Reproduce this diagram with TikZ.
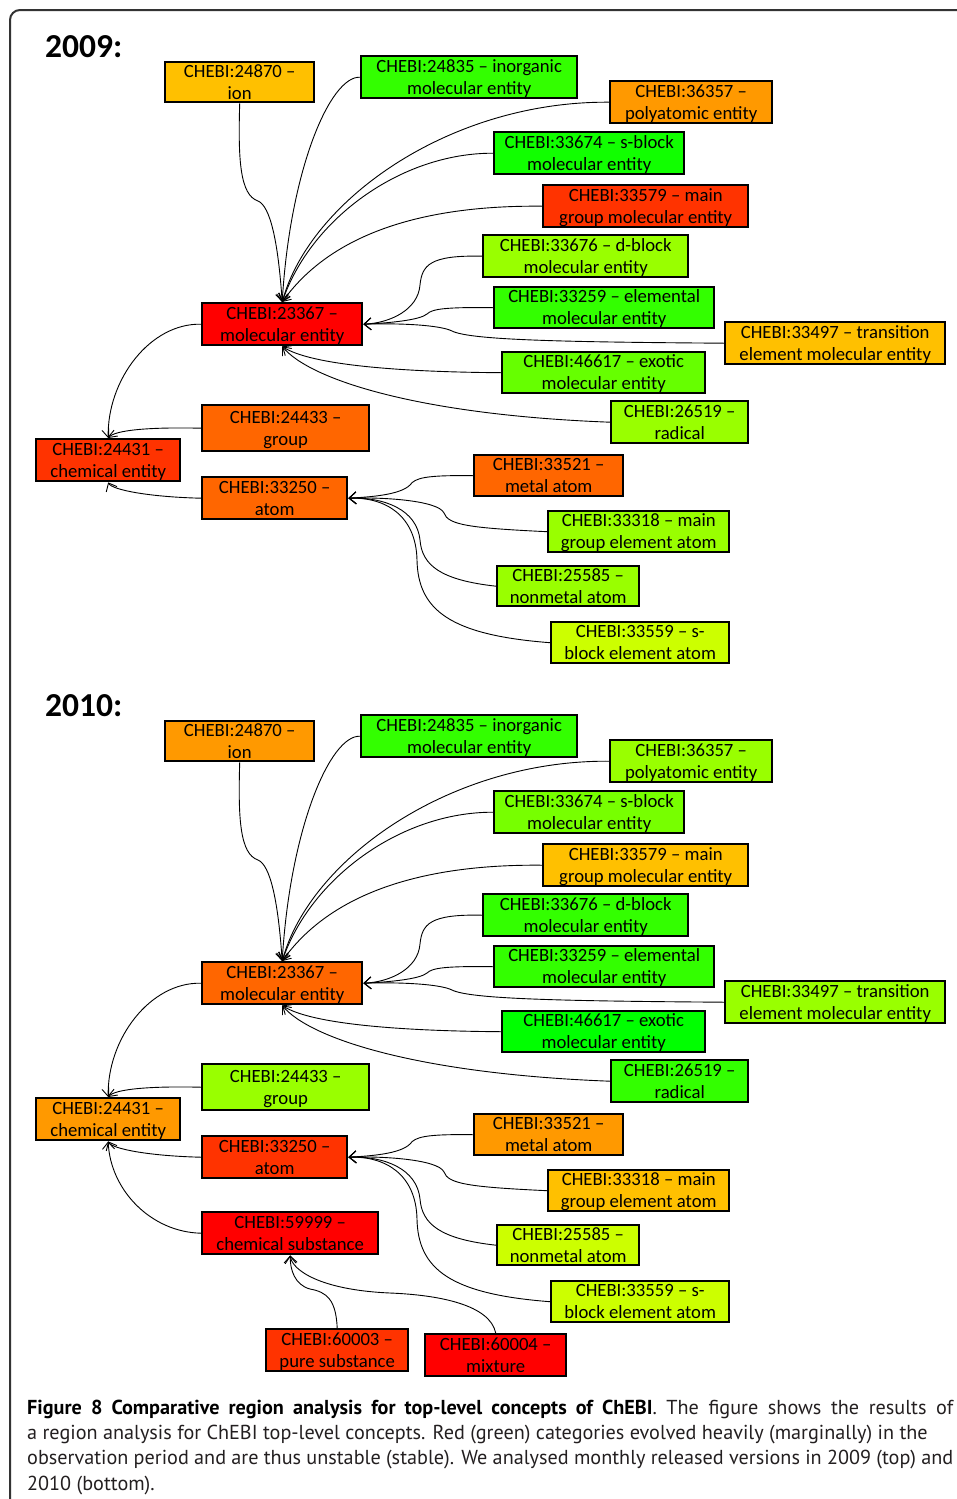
\documentclass[tikz,border=0pt]{standalone}
\usepackage{fontspec}
\setmainfont{Carlito}
\newfontfamily\capfont{PT Sans}
\usetikzlibrary{arrows.meta}

% fills, 2009 panel (prefix a) and 2010 panel (prefix b)
\definecolor{aion}{HTML}{FFC000}   \definecolor{bion}{HTML}{FF9900}
\definecolor{ainorg}{HTML}{33FF00} \definecolor{binorg}{HTML}{33FF00}
\definecolor{apoly}{HTML}{FF9900}  \definecolor{bpoly}{HTML}{99FF00}
\definecolor{asblk}{HTML}{11FF00}  \definecolor{bsblk}{HTML}{77FF00}
\definecolor{amgrp}{HTML}{FF3300}  \definecolor{bmgrp}{HTML}{FFC000}
\definecolor{adblk}{HTML}{99FF00}  \definecolor{bdblk}{HTML}{33FF00}
\definecolor{aelem}{HTML}{33FF00}  \definecolor{belem}{HTML}{33FF00}
\definecolor{atrans}{HTML}{FFC000} \definecolor{btrans}{HTML}{99FF00}
\definecolor{aexot}{HTML}{66FF00}  \definecolor{bexot}{HTML}{00FF00}
\definecolor{arad}{HTML}{99FF00}   \definecolor{brad}{HTML}{33FF00}
\definecolor{amol}{HTML}{FF0000}   \definecolor{bmol}{HTML}{FF6600}
\definecolor{agrp}{HTML}{FF6600}   \definecolor{bgrp}{HTML}{99FF00}
\definecolor{achem}{HTML}{FF3300}  \definecolor{bchem}{HTML}{FF9900}
\definecolor{aatom}{HTML}{FF6600}  \definecolor{batom}{HTML}{FF3300}
\definecolor{ametal}{HTML}{FF6600} \definecolor{bmetal}{HTML}{FF9900}
\definecolor{amgea}{HTML}{99FF00}  \definecolor{bmgea}{HTML}{FFC000}
\definecolor{anonm}{HTML}{99FF00}  \definecolor{bnonm}{HTML}{CCFF00}
\definecolor{asbea}{HTML}{CCFF00}  \definecolor{bsbea}{HTML}{CCFF00}
\definecolor{bsubst}{HTML}{FF0000}
\definecolor{bpure}{HTML}{FF3300}
\definecolor{bmix}{HTML}{FF0000}
\definecolor{framegray}{HTML}{333333}
\definecolor{captext}{HTML}{231F20}

\tikzset{
  box/.style={draw=black, line width=2.4pt, inner sep=0pt, anchor=north west,
    font=\fontsize{18.7}{22}\selectfont},
  arr/.style={line width=0.9pt,
    -{Straight Barb[length=7pt,width=12pt,line width=0.9pt]}},
  year/.style={anchor=base west, inner sep=0pt,
    font=\fontsize{33.5}{36}\selectfont\bfseries},
  capline/.style={anchor=base west, inner sep=0pt, text=captext,
    font=\capfont\fontsize{20.2}{25}\selectfont},
}

% two centred lines, first baseline on the box's text height
\newcommand\twoline[2]{\hbox to 0pt{\hss\vtop{\hbox to 0pt{\hss#1\hss}\hbox to 0pt{\hss#2\hss}}\hss}}

% \bx{name = fill colour}{x1}{y1}{x2}{y2}{line 1}{line 2}
\newcommand\bx[7]{%
  \pgfmathsetmacro\bxw{#4-#2}%
  \pgfmathsetmacro\bxh{(#5-#3-42)/2+16}%
  \pgfmathsetmacro\bxd{#5-#3-\bxh}%
  \node[box, fill=#1, minimum width=\bxw pt, text height=\bxh pt, text depth=\bxd pt]
    (#1) at (#2,#3) {\twoline{#6}{#7}};}

% one year: boxes and is-a links
\newcommand\panel[2]{%
  \node[year] (#1year) at (45,57) {#2};
  \bx{#1ion}{164}{61}{313}{101}{CHEBI:24870 –}{ion}
  \bx{#1inorg}{360}{55}{576}{97}{CHEBI:24835 – inorganic}{molecular entity}
  \bx{#1poly}{609}{80}{771}{122}{CHEBI:36357 –}{polyatomic entity}
  \bx{#1sblk}{493}{131}{683}{173}{CHEBI:33674 – s-block}{molecular entity}
  \bx{#1mgrp}{542}{184}{747}{226}{CHEBI:33579 – main}{group molecular entity}
  \bx{#1dblk}{482}{234}{687}{276}{CHEBI:33676 – d-block}{molecular entity}
  \bx{#1elem}{493}{286}{713}{327}{CHEBI:33259 – elemental}{molecular entity}
  \bx{#1trans}{724}{321}{944}{363}{CHEBI:33497 – transition}{element molecular entity}
  \bx{#1exot}{501}{351}{704}{392}{CHEBI:46617 – exotic}{molecular entity}
  \bx{#1rad}{610}{400}{747}{442}{CHEBI:26519 –}{radical}
  \bx{#1mol}{201}{302}{361}{344}{CHEBI:23367 –}{molecular entity}
  \bx{#1grp}{201}{404}{368}{450}{CHEBI:24433 –}{group}
  \bx{#1chem}{35}{438}{179}{480}{CHEBI:24431 –}{chemical entity}
  \bx{#1atom}{201}{476}{346}{518}{CHEBI:33250 –}{atom}
  \bx{#1metal}{473}{454}{622}{495}{CHEBI:33521 –}{metal atom}
  \bx{#1mgea}{547}{510}{728}{551}{CHEBI:33318 – main}{group element atom}
  \bx{#1nonm}{496}{565}{638}{605}{CHEBI:25585 –}{nonmetal atom}
  \bx{#1sbea}{550}{621}{728}{662}{CHEBI:33559 – s-}{block element atom}
  \draw[arr] (#1ion.south) .. controls (238,160) and (240,195) .. (258,201)
             .. controls (270,206) and (278,240) .. (#1mol.north);
  \draw[arr] (#1inorg.west) .. controls (330,76) and (290,170) .. (#1mol.north);
  \draw[arr] (#1poly.west) .. controls (450,101) and (310,200) .. (#1mol.north);
  \draw[arr] (#1sblk.west) .. controls (400,153) and (310,220) .. (#1mol.north);
  \draw[arr] (#1mgrp.west) .. controls (420,205) and (330,235) .. (#1mol.north);
  \draw[arr] (#1dblk.west) .. controls (430,255) and (422,265) .. (420,285)
             .. controls (418,310) and (390,323) .. (#1mol.east);
  \draw[arr] (#1elem.west) .. controls (445,307) and (432,309) .. (427,314)
             .. controls (420,320) and (390,323) .. (#1mol.east);
  \draw[arr] (#1trans.west) .. controls (560,342) and (470,340) .. (452,331)
             .. controls (440,325) and (400,323) .. (#1mol.east);
  \draw[arr] (#1exot.west) .. controls (400,372) and (310,365) .. (#1mol.south);
  \draw[arr] (#1rad.west) .. controls (420,415) and (310,380) .. (#1mol.south);
  \draw[arr] (#1mol.west) .. controls (150,323) and (107,380) .. (#1chem.north);
  \draw[arr] (#1grp.west) .. controls (150,427) and (115,430) .. (#1chem.north);
  \draw[arr] (#1atom.west) .. controls (150,497) and (112,490) .. (#1chem.south);
  \draw[arr] (#1metal.west) .. controls (425,475) and (415,478) .. (410,485)
             .. controls (400,495) and (370,497) .. (#1atom.east);
  \draw[arr] (#1mgea.west) .. controls (470,528) and (448,525) .. (444,513)
             .. controls (438,500) and (380,497) .. (#1atom.east);
  \draw[arr] (#1nonm.west) .. controls (440,580) and (422,565) .. (420,540)
             .. controls (417,510) and (385,497) .. (#1atom.east);
  \draw[arr] (#1sbea.west) .. controls (450,635) and (418,610) .. (417,560)
             .. controls (416,515) and (385,497) .. (#1atom.east);
}

\begin{document}
\begin{tikzpicture}[x=1pt, y=-1pt]
  \useasboundingbox (0,0) rectangle (957,1499);
  \clip (0,0) rectangle (957,1499);
  \fill[white] (0,0) rectangle (957,1499);
  % figure frame, running off the page at right and bottom
  \draw[line width=2pt, draw=framegray, rounded corners=10pt]
    (10,1560) -- (10,10) -- (1000,10);

  \panel{a}{2009:}

  \begin{scope}[yshift=-659pt]
    \panel{b}{2010:}
    \bx{bsubst}{201}{552}{377}{594}{CHEBI:59999 –}{chemical substance}
    \bx{bpure}{265}{669}{407}{711}{CHEBI:60003 –}{pure substance}
    \bx{bmix}{424}{674}{565}{716}{CHEBI:60004 –}{mixture}
    \draw[arr] (bsubst.west) .. controls (150,573) and (110,530) .. (bchem.south);
    \draw[arr] (bpure.north) .. controls (336,641) and (327,633) .. (310,630)
               .. controls (295,626) and (290,611) .. (bsubst.south);
    \draw[arr] (bmix.north) .. controls (490,646) and (440,636) .. (390,634)
               .. controls (320,631) and (292,611) .. (bsubst.south);
  \end{scope}

  % caption
  \node[capline] (cap1) at (27,1414) {\makebox[926pt][s]{\textbf{\color{black}Figure 8 Comparative region analysis for top-level concepts of ChEBI}. The figure shows the results of}};
  \node[capline] (cap2) at (27,1439) {a region analysis for ChEBI top-level concepts. Red (green) categories evolved heavily (marginally) in the};
  \node[capline] (cap3) at (27,1464) {\makebox[926pt][s]{observation period and are thus unstable (stable). We analysed monthly released versions in 2009 (top) and}};
  \node[capline] (cap4) at (27,1490) {2010 (bottom).};
\end{tikzpicture}
\end{document}
